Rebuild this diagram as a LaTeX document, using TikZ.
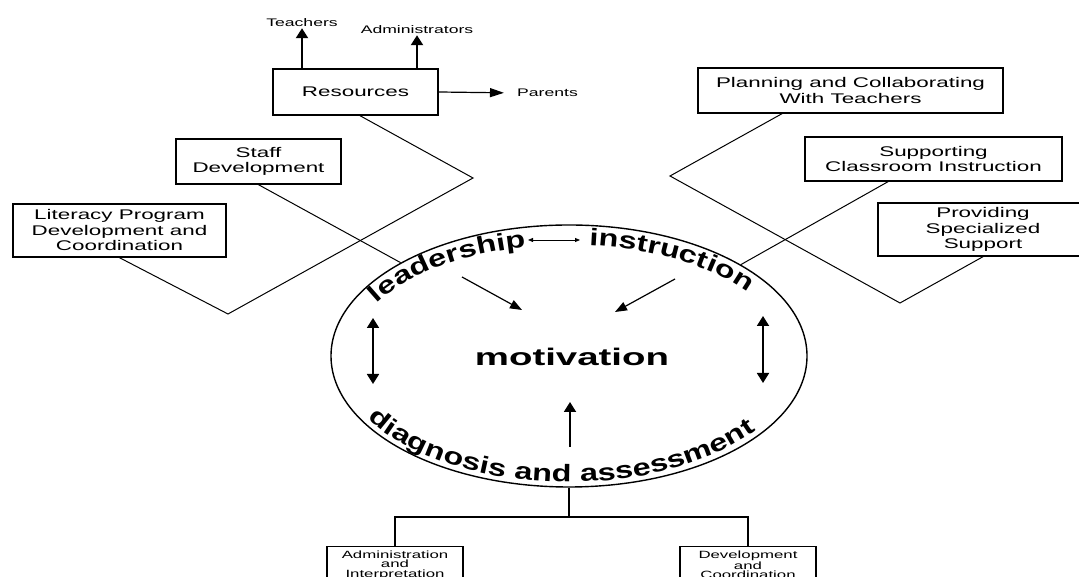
\documentclass[tikz,border=0pt]{standalone}
\usepackage{fontspec}
\setmainfont{Liberation Sans}[FakeStretch=1.6]
\newfontfamily\arcfont{Liberation Sans}[FakeStretch=1.35]
\usetikzlibrary{arrows.meta,shapes.geometric,decorations.text}

\begin{document}
\begin{tikzpicture}[x=1pt,y=1pt,font=\fontsize{14}{15.5}\selectfont]
  \tikzset{bx/.style={draw,line width=1.4pt,align=center,inner sep=0pt,minimum width=#1},
    lbl/.style={font=\fontsize{11}{12}\selectfont,inner sep=1pt},
    sm/.style={draw,line width=1.4pt,align=center,inner xsep=0pt,inner ysep=4pt,minimum width=136pt,anchor=north,font=\fontsize{10.5}{9.5}\selectfont},
    ln/.style={line width=1pt},
    big/.style={line width=2.2pt,-{Triangle[length=10pt,width=12pt]}},
    dbl/.style={line width=1.8pt,{Triangle[length=10pt,width=12pt]}-{Triangle[length=10pt,width=12pt]}},
    dg/.style={line width=1.2pt,-{Triangle[length=12pt,width=9pt]}},
    rt/.style={line width=1.2pt,-{Triangle[length=14pt,width=9pt]}},
    arctext/.style={decorate,decoration={text along path,text align=center,text={|\arcfont\fontsize{24}{28}\selectfont\bfseries|#1}}}}
  \useasboundingbox (0,0) rectangle (1079,577);

  % boxes on the left
  \node[bx=165pt,minimum height=46pt] (res) at (355.5,485) {Resources};
  \node[bx=165pt,minimum height=45pt] (stf) at (258.5,415.5) {Staff\\Development};
  \node[bx=213pt,minimum height=53pt] (lit) at (119.5,346.5) {Literacy Program\\Development and\\Coordination};
  \node[lbl] (tch) at (302,554) {Teachers};
  \node[lbl] (admr) at (417,547) {Administrators};
  \node[lbl] (par) at (547.5,484) {Parents};

  % boxes on the right
  \node[bx=305pt,minimum height=45pt] (pln) at (850.5,486.5) {Planning and Collaborating\\With Teachers};
  \node[bx=257pt,minimum height=44pt] (sup) at (933.5,418) {Supporting\\Classroom Instruction};
  \node[bx=210pt,minimum height=53pt] (prv) at (983,347.5) {Providing\\Specialized\\Support};

  % the circle
  \node[ellipse,draw,line width=1.4pt,minimum width=476pt,minimum height=262pt,inner sep=0pt] (circ) at (569,221) {};
  \node[font=\fontsize{24}{28}\selectfont\bfseries] (mot) at (572,220) {motivation};
  \path[arctext=leadership] (circ.center) ++(177:218 and 111) arc[start angle=177,end angle=87,x radius=218,y radius=111];
  \path[arctext=instruction] (circ.center) ++(100:218 and 111) arc[start angle=100,end angle=10,x radius=218,y radius=111];
  \path[arctext=diagnosis and assessment] (circ.center) ++(190:232 and 126) arc[start angle=190,end angle=342,x radius=232,y radius=126];

  % boxes at the bottom
  \node[sm] (ai) at (395,31) {Administration\\and\\Interpretation};
  \node[sm] (dc) at (748,31) {Development\\and\\Coordination};

  % connectors
  \coordinate (v1) at (473,399);
  \coordinate (v2) at (228,263);
  \coordinate (v3) at (670,401);
  \coordinate (v4) at (900,274);
  \coordinate (jn) at (569,60);
  \draw[ln] ([xshift=4.5pt]res.south) -- (v1) -- (v2) -- (lit.south);
  \draw[ln] (stf.south) -- (circ.151);
  \draw[ln] ([xshift=-68.5pt]pln.south) -- (v3) -- (v4) -- (prv.south);
  \draw[ln] ([xshift=-45.5pt]sup.south) -- (circ.28.5);
  \draw[line width=1.4pt] (circ.south) -- (jn);
  \draw[line width=1.4pt] (ai.north) |- (jn) -| (dc.north);
  \draw[big] (res.north -| tch) -- (tch.south);
  \draw[big] (res.north -| admr) -- (admr.south);
  \draw[rt,shorten >=12pt] (res.east) -- (par.west);

  % arrows inside the circle
  \coordinate (l1) at (528,337);
  \coordinate (i1) at (580,337);
  \coordinate (l2) at (462,300);
  \coordinate (m1) at (522,267);
  \coordinate (i2) at (675,298);
  \coordinate (m2) at (615,265);
  \coordinate (l3) at (373,259);
  \coordinate (d1) at (373,193);
  \coordinate (i3) at (763,261);
  \coordinate (d2) at (763,194);
  \coordinate (d3) at (570,130);
  \coordinate (m3) at (570,175);
  \draw[line width=0.8pt,{Triangle[length=5pt,width=4pt]}-{Triangle[length=5pt,width=4pt]}] (l1) -- (i1);
  \draw[dg] (l2) -- (m1);
  \draw[dg] (i2) -- (m2);
  \draw[dbl] (l3) -- (d1);
  \draw[dbl] (i3) -- (d2);
  \draw[big,line width=1.8pt] (d3) -- (m3);
\end{tikzpicture}
\end{document}
